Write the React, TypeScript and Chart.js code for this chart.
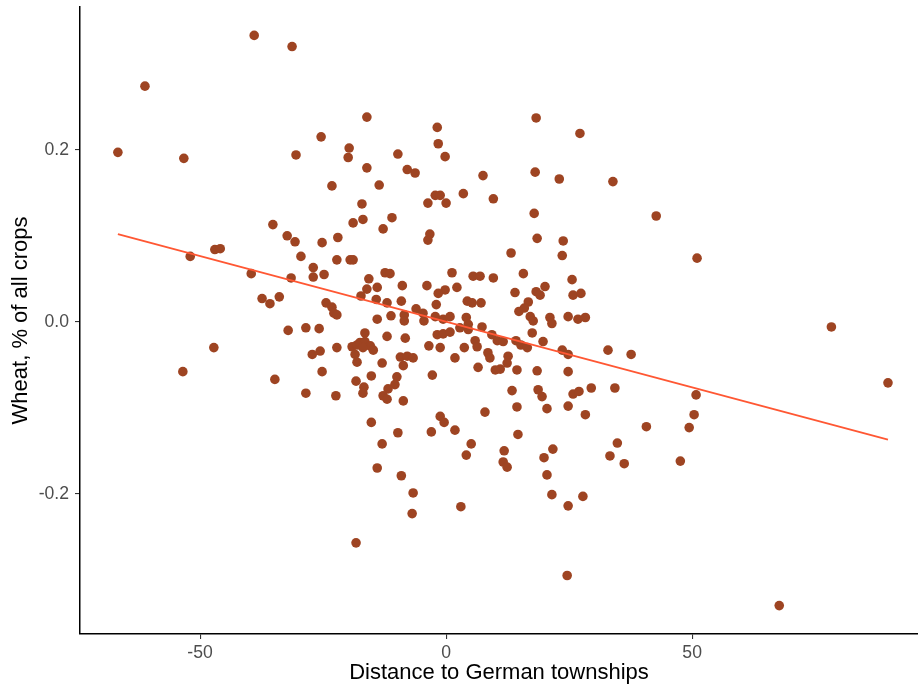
import { useEffect, useRef } from "react";
import { Chart, registerables } from "chart.js";

Chart.register(...registerables);

// Distance to German townships (x) and wheat share deviation (y)
const distance: number[] = [
  // upper / outlying points
  -39.0, -31.3, -61.2, -66.7, -53.3, -30.5, -16.1, -25.4, -19.7, -19.9,
  -16.1, -9.8, -7.9, -6.3, -1.8, -1.6, -0.2, -23.2, -13.6, 3.5,
  -2.2, -1.2, -3.7, 0.0, 7.5, 9.6, 18.3, 27.2, 18.1, 23.0,
  33.9, 42.7, 51.0, 78.3, 89.8, 17.9, 18.5, 23.8, 23.6, 13.2,
  -17.1, -18.9, -16.9, -11.0, -12.8, -3.3, -3.7,
  // left group
  -35.2, -32.3, -30.7, -29.5, -47.0, -45.9, -52.0, -39.6, -37.4, -35.8,
  -33.9, -31.5, -32.1, -47.2, -53.5, -34.8, -28.5, -25.2, -22.0, -27.0,
  -27.0, -24.8, -22.2, -19.5, -18.9,
  // middle-left group
  -12.4, -11.4, -15.7, -16.1, -14.0, -8.9, -17.3, -14.2, -12.0, -9.1,
  -6.1, -24.4, -23.2, -22.8, -22.2, -14.0, -11.2, -8.5, -8.5, -28.5,
  -25.8, -16.5, -12.0, -8.3, -19.1, -18.1, -17.5, -16.5, -15.4, -14.8,
  -18.5, -18.1, -16.9, -22.2, -25.6, -27.2, -13.0, -9.3, -7.9, -6.7,
  -8.7, -25.2, -22.4, -18.3, -16.7, -16.9, -15.2, -10.0, -10.4, -11.8,
  -12.8, -12.0, -8.7, -15.2, -9.8, -13.0, -14.0, -9.1, -6.7, -6.9,
  -18.3,
  // centre-right group
  1.2, 5.5, 6.9, 9.6, 15.7, 25.6, -3.9, -0.2, -1.6, 2.2,
  14.0, 18.3, 19.1, 20.1, 25.8, 27.4, -2.0, 4.3, 5.3, 7.1,
  16.7, 15.9, 14.8, 17.1, 17.7, 21.1, 21.5, 24.8, 26.8, 28.3,
  -4.7, -4.5, -2.2, -0.6, 0.8, 4.1, 4.5, 7.3, -1.8, -0.6,
  0.8, 2.8, 4.5, -3.5, -1.2, 3.7, 5.9, 6.3, 9.3, 10.4,
  11.6, 14.2, 15.2, 16.5, 17.5, 19.7, 23.6, 24.8, 32.9, 37.6,
  1.8, 8.5, 8.9, 12.6, 12.4, 11.0, 10.0, 6.5, 14.4, 18.5,
  24.8, -2.8, 13.4, 18.7, 19.5, 25.8, 27.0, 29.5, 34.3, 14.4,
  20.5, 24.8, 28.3, 7.9, -1.2, -0.4, 1.8, -3.0, 14.6, 5.1,
  4.1, 11.8, 11.6, 12.4, 21.7, 19.9, 20.5, 21.5, 27.8, 3.0,
  24.8, 24.6, 67.7, 34.8, 33.3, 36.2, 40.7, 49.4, 50.4, 50.8,
  47.6,
];

const wheat: number[] = [
  // upper / outlying points
  0.333, 0.320, 0.274, 0.197, 0.190, 0.194, 0.238, 0.215, 0.202, 0.191,
  0.179, 0.195, 0.177, 0.173, 0.226, 0.207, 0.192, 0.158, 0.159, 0.149,
  0.147, 0.147, 0.138, 0.138, 0.170, 0.143, 0.237, 0.219, 0.174, 0.166,
  0.163, 0.123, 0.074, -0.006, -0.071, 0.126, 0.097, 0.094, 0.077, 0.080,
  0.137, 0.115, 0.119, 0.121, 0.108, 0.102, 0.095,
  // left group
  0.113, 0.100, 0.093, 0.076, 0.084, 0.085, 0.076, 0.056, 0.027, 0.021,
  0.029, 0.051, -0.010, -0.030, -0.058, -0.067, -0.083, 0.092, 0.098, 0.063,
  0.052, 0.055, 0.072, 0.072, 0.072,
  // middle-left group
  0.057, 0.056, 0.050, 0.038, 0.040, 0.042, 0.030, 0.026, 0.022, 0.024,
  0.015, 0.022, 0.017, 0.010, 0.008, 0.003, 0.007, 0.008, 0.001, -0.007,
  -0.008, -0.013, -0.017, -0.019, -0.029, -0.027, -0.024, -0.023, -0.028, -0.033,
  -0.038, -0.047, -0.030, -0.030, -0.034, -0.038, -0.048, -0.041, -0.040, -0.042,
  -0.051, -0.058, -0.086, -0.069, -0.076, -0.083, -0.063, -0.064, -0.073, -0.078,
  -0.086, -0.090, -0.092, -0.117, -0.129, -0.142, -0.170, -0.179, -0.199, -0.223,
  -0.257,
  // centre-right group
  0.057, 0.053, 0.053, 0.051, 0.056, 0.049, 0.042, 0.037, 0.033, 0.040,
  0.034, 0.035, 0.031, 0.041, 0.031, 0.033, 0.020, 0.024, 0.022, 0.022,
  0.023, 0.016, 0.012, 0.006, 0.001, 0.005, -0.002, 0.006, 0.003, 0.005,
  0.010, 0.001, 0.006, 0.003, 0.006, 0.005, -0.003, -0.006, -0.015, -0.014,
  -0.012, -0.007, -0.009, -0.028, -0.030, -0.030, -0.022, -0.029, -0.015, -0.022,
  -0.023, -0.022, -0.027, -0.030, -0.013, -0.023, -0.033, -0.038, -0.033, -0.038,
  -0.042, -0.036, -0.042, -0.040, -0.048, -0.055, -0.056, -0.053, -0.056, -0.057,
  -0.058, -0.062, -0.080, -0.079, -0.087, -0.084, -0.081, -0.077, -0.077, -0.099,
  -0.101, -0.098, -0.108, -0.105, -0.110, -0.117, -0.126, -0.128, -0.131, -0.142,
  -0.155, -0.150, -0.163, -0.169, -0.148, -0.158, -0.178, -0.201, -0.203, -0.215,
  -0.214, -0.295, -0.330, -0.141, -0.156, -0.165, -0.122, -0.123, -0.108, -0.085,
  -0.162,
];

// Fitted linear trend, endpoints
const fitX: number[] = [-66.7, 89.8];
const fitY: number[] = [0.102, -0.137];

const xTickValues: number[] = [-50, 0, 50];
const yTickValues: number[] = [-0.2, 0, 0.2];

const FONT = "'Liberation Sans', Arial, Helvetica, sans-serif";

export default function App() {
  const ref = useRef<HTMLCanvasElement>(null);

  useEffect(() => {
    document.body.style.margin = "0";
    const canvas = ref.current;
    if (!canvas) return;
    const n = Math.min(distance.length, wheat.length);
    const points = [] as { x: number; y: number }[];
    for (let i = 0; i < n; i++) points.push({ x: distance[i], y: wheat[i] });
    const fitPoints = fitX.map((x, i) => ({ x, y: fitY[i] }));

    const chart = new Chart(canvas, {
      type: "scatter",
      data: {
        datasets: [
          {
            type: "line",
            data: fitPoints,
            borderColor: "#FF5733",
            borderWidth: 1.8,
            pointRadius: 0,
            fill: false,
            order: 0,
          } as any,
          {
            data: points,
            backgroundColor: "#9E4422",
            borderWidth: 0,
            pointRadius: 4.8,
            pointHoverRadius: 4.8,
            order: 1,
          },
        ],
      },
      options: {
        responsive: false,
        animation: false,
        events: [],
        layout: { autoPadding: false, padding: { top: 7, right: 0, bottom: 0, left: 0 } },
        plugins: { legend: { display: false }, tooltip: { enabled: false } },
        scales: {
          x: {
            type: "linear",
            min: -74.4,
            max: 95.9,
            afterBuildTicks: (s: any) => {
              s.ticks = xTickValues.map((v) => ({ value: v }));
            },
            afterFit: (s: any) => {
              s.height = 61;
              s.paddingLeft = 0;
              s.paddingRight = 0;
            },
            grid: {
              drawOnChartArea: false,
              drawTicks: true,
              tickLength: 5,
              color: "#333333",
              lineWidth: 1.1,
            },
            border: { display: true, color: "#000000", width: 1.5 },
            ticks: {
              color: "#4D4D4D",
              font: { family: FONT, size: 17.6 },
              padding: 4,
              maxRotation: 0,
              callback: (v: any) => String(v),
            },
            title: {
              display: true,
              text: "Distance to German townships",
              color: "#000000",
              font: { family: FONT, size: 22 },
              padding: { top: 0, bottom: 9 },
            },
          },
          y: {
            type: "linear",
            min: -0.363,
            max: 0.366,
            afterBuildTicks: (s: any) => {
              s.ticks = yTickValues.map((v) => ({ value: v }));
            },
            afterFit: (s: any) => {
              s.width = 80;
              s.paddingTop = 0;
              s.paddingBottom = 0;
            },
            grid: {
              drawOnChartArea: false,
              drawTicks: true,
              tickLength: 5,
              color: "#333333",
              lineWidth: 1.1,
            },
            border: { display: true, color: "#000000", width: 1.5 },
            ticks: {
              color: "#4D4D4D",
              font: { family: FONT, size: 17.6 },
              padding: 6,
              callback: (v: any) => Number(v).toFixed(1),
            },
            title: {
              display: true,
              text: "Wheat, % of all crops",
              color: "#000000",
              font: { family: FONT, size: 22 },
              padding: { top: 8, bottom: 0 },
            },
          },
        },
      },
    });
    return () => chart.destroy();
  }, []);

  return (
    <canvas
      ref={ref}
      width={918}
      height={695}
      style={{ display: "block", width: 918, height: 695 }}
    />
  );
}
